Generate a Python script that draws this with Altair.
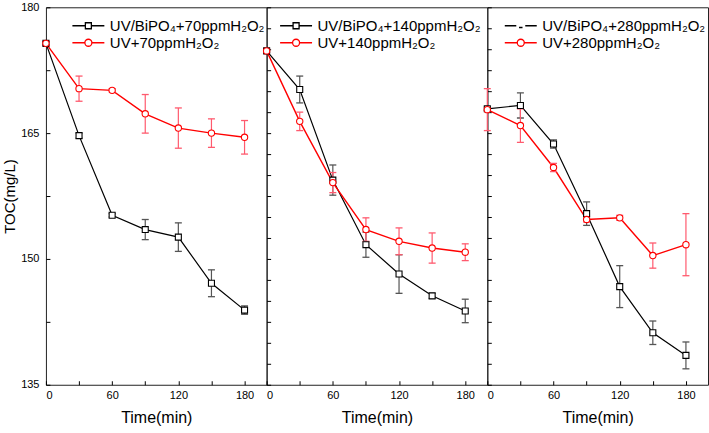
import altair as alt
import pandas as pd

t = [0, 30, 60, 90, 120, 150, 180]

labels_black = ["UV/BiPO₄+70ppmH₂O₂", "UV/BiPO₄+140ppmH₂O₂", "UV/BiPO₄+280ppmH₂O₂"]
labels_red = ["UV+70ppmH₂O₂", "UV+140ppmH₂O₂", "UV+280ppmH₂O₂"]

# panel 1 (70 ppm)
black_70 = [175.7, 164.7, 155.2, 153.5, 152.6, 147.1, 143.9]
black_70_err = [0.2, 0.3, 0.2, 1.2, 1.7, 1.6, 0.5]
red_70 = [175.7, 170.3, 170.1, 167.3, 165.6, 165.0, 164.5]
red_70_err = [0.2, 1.5, 0.2, 2.3, 2.4, 1.7, 2.0]

# panel 2 (140 ppm)
black_140 = [174.8, 170.2, 159.4, 151.7, 148.2, 145.6, 143.8]
black_140_err = [0.2, 1.6, 1.8, 1.5, 2.3, 0.3, 1.4]
red_140 = [174.8, 166.4, 159.1, 153.5, 152.1, 151.3, 150.8]
red_140_err = [0.2, 1.1, 1.2, 1.4, 1.6, 1.8, 1.0]

# panel 3 (280 ppm)
black_280 = [167.9, 168.3, 163.7, 155.4, 146.7, 141.2, 138.5]
black_280_err = [0.2, 1.5, 0.5, 1.4, 2.5, 1.4, 1.6]
red_280 = [167.8, 165.9, 160.9, 154.7, 154.9, 150.4, 151.7]
red_280_err = [2.5, 2.0, 0.5, 0.3, 0.3, 1.5, 3.7]

panels = [
    (labels_black[0], labels_red[0], black_70, black_70_err, red_70, red_70_err),
    (labels_black[1], labels_red[1], black_140, black_140_err, red_140, red_140_err),
    (labels_black[2], labels_red[2], black_280, black_280_err, red_280, red_280_err),
]

W = 221
H = 378
FONT = "Liberation Sans"
BLACK = "#000000"
RED = "#ff0000"

# legend glyphs: line through a marker (unit = 5 px with symbolSize 100)
SQ = "M-3.2,0H-0.6M0.6,0H3.2M-0.6,-0.6H0.6V0.6H-0.6Z"
CI = "M-3.2,0H-0.7M0.7,0H3.2M-0.7,0A0.7,0.7 0 1,0 0.7,0A0.7,0.7 0 1,0 -0.7,0Z"
DASH = "M-3.2,0H-0.9M-0.35,0.35H0.35M0.9,0H3.2"
legend_black_paths = [SQ, SQ, DASH]
legend_pos = [(35, 11), (22, 11), (26, 11)]


def make_panel(i):
    lb, lr, bv, be, rv, re = panels[i]
    rows = []
    for k in range(len(t)):
        rows.append({"t": t[k], "toc": bv[k], "lo": bv[k] - be[k], "hi": bv[k] + be[k], "series": lb, "kind": "b"})
    for k in range(len(t)):
        rows.append({"t": t[k], "toc": rv[k], "lo": rv[k] - re[k], "hi": rv[k] + re[k], "series": lr, "kind": "r"})
    df = pd.DataFrame(rows)

    xs = alt.Scale(domain=[0, 200], nice=False)
    ys = alt.Scale(domain=[135, 180], nice=False, zero=False)
    cscale = alt.Scale(domain=[lb, lr], range=[BLACK, RED])

    base = alt.Chart(df)

    if i == 0:
        yaxis_main = alt.Axis(values=[135, 150, 165, 180], ticks=False, tickSize=0, domain=False,
                              grid=False, labelFont=FONT, labelFontSize=11, labelColor="#000",
                              labelPadding=7, title="TOC(mg/L)", titleFont=FONT, titleFontSize=15,
                              titleFontWeight="normal", titleColor="#000", titlePadding=3)
        ytick_vals = [135 + 7.5 * j for j in range(7)]
    else:
        yaxis_main = None
        ytick_vals = [135 + 2.5 * j for j in range(19)]

    xaxis_main = alt.Axis(values=[0, 60, 120, 180], ticks=False, tickSize=0, domain=False, grid=False,
                          labelFont=FONT, labelFontSize=11, labelColor="#000", labelPadding=5,
                          title="Time(min)", titleFont=FONT, titleFontSize=16, titleFontWeight="normal",
                          titleColor="#000", titlePadding=9)
    xaxis_in = alt.Axis(orient="top", offset=-H, values=[0, 30, 60, 90, 120, 150, 180], labels=False,
                        domain=False, grid=False, ticks=True, tickSize=4, tickColor="#000", tickWidth=1,
                        title=None)
    yaxis_in = alt.Axis(orient="right", offset=-W, values=ytick_vals, labels=False, domain=False,
                        grid=False, ticks=True, tickSize=4, tickColor="#000", tickWidth=1, title=None)

    layers = []
    # series lines
    for kind, col, sw in [("b", BLACK, 1.2), ("r", RED, 1.4)]:
        first = kind == "b"
        layers.append(base.transform_filter(alt.datum.kind == kind).mark_line(color=col, strokeWidth=sw).encode(
            x=alt.X("t:Q", scale=xs, axis=xaxis_main if first else None),
            y=alt.Y("toc:Q", scale=ys, axis=yaxis_main if first else None),
        ))

    # error bars
    for kind, col in [("b", "#555555"), ("r", "#ff5a6e")]:
        sub = base.transform_filter(alt.datum.kind == kind)
        layers.append(sub.mark_rule(color=col, strokeWidth=1.2).encode(
            x=alt.X("t:Q", scale=xs, axis=None),
            y=alt.Y("lo:Q", scale=ys, axis=None),
            y2="hi:Q",
        ))
        for fld in ["lo", "hi"]:
            layers.append(sub.mark_tick(color=col, orient="horizontal", size=7, thickness=1.3,
                                        opacity=1).encode(
                x=alt.X("t:Q", scale=xs, axis=None),
                y=alt.Y(fld + ":Q", scale=ys, axis=None),
            ))

    # markers
    layers.append(base.transform_filter(alt.datum.kind == "b").mark_point(
        shape="square", filled=False, fill="white", color=BLACK, size=36, strokeWidth=1.1, opacity=1
    ).encode(
        x=alt.X("t:Q", scale=xs, axis=xaxis_in),
        y=alt.Y("toc:Q", scale=ys, axis=yaxis_in),
    ))
    layers.append(base.transform_filter(alt.datum.kind == "r").mark_point(
        shape="circle", filled=False, fill="white", color=RED, size=40, strokeWidth=1.1, opacity=1
    ).encode(
        x=alt.X("t:Q", scale=xs, axis=None),
        y=alt.Y("toc:Q", scale=ys, axis=None),
    ))

    # legend carrier: its marks are pushed outside the domain and clipped away
    lx, ly = legend_pos[i]
    leg = alt.Legend(orient="none", legendX=lx, legendY=ly, title=None, labelFont=FONT,
                     labelFontSize=15, labelColor="#000", labelLimit=400, symbolSize=100,
                     symbolStrokeWidth=1.3, rowPadding=1, labelOffset=14)
    layers.append(base.transform_calculate(off="datum.toc + 1000").mark_point(
        filled=False, strokeWidth=1.3, opacity=1, clip=True
    ).encode(
        x=alt.X("t:Q", scale=xs, axis=None),
        y=alt.Y("off:Q", scale=ys, axis=None),
        color=alt.Color("series:N", scale=cscale, legend=leg),
        shape=alt.Shape("series:N", scale=alt.Scale(domain=[lb, lr], range=[legend_black_paths[i], CI]),
                        legend=leg),
    ))

    return alt.layer(*layers).resolve_axis(x="independent", y="independent").properties(width=W, height=H)


chart = alt.hconcat(make_panel(0), make_panel(1), make_panel(2), spacing=0, bounds="flush").resolve_scale(
    color="independent", shape="independent"
).resolve_legend(color="independent", shape="independent").properties(
    padding={"left": 2, "top": 0, "right": 0, "bottom": 0}, background="white"
).configure_view(stroke="#222222", strokeWidth=1)

chart.save("out.html", embed_options={"renderer": "svg", "actions": False})
